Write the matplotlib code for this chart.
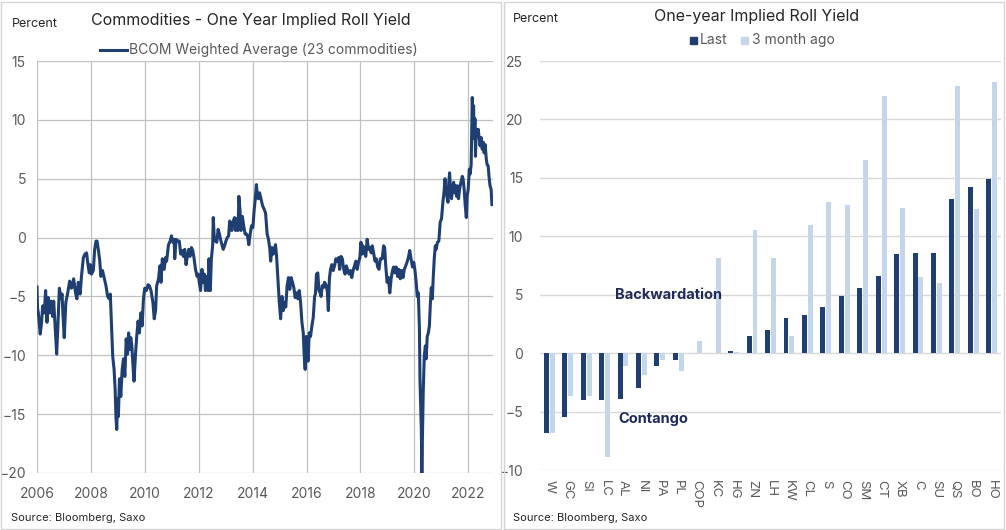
import matplotlib
matplotlib.use("Agg")
import matplotlib.pyplot as plt
from matplotlib.patches import Rectangle
from matplotlib.lines import Line2D
import numpy as np

plt.rcParams['font.family'] = ['Inter', 'DejaVu Sans']

# --- left panel: BCOM weighted average roll yield ---
years = [
    2006.00, 2006.02, 2006.05, 2006.12, 2006.17, 2006.21, 2006.27, 2006.32, 2006.37, 2006.42,
    2006.47, 2006.52, 2006.58, 2006.62, 2006.67, 2006.73, 2006.77, 2006.83, 2006.89, 2006.93,
    2006.96, 2007.01, 2007.07, 2007.14, 2007.21, 2007.28, 2007.36, 2007.43, 2007.48, 2007.53,
    2007.60, 2007.65, 2007.72, 2007.78, 2007.84, 2007.88, 2007.94, 2007.98, 2008.02, 2008.09,
    2008.14, 2008.19, 2008.23, 2008.28, 2008.33, 2008.37, 2008.43, 2008.49, 2008.56, 2008.62,
    2008.68, 2008.72, 2008.77, 2008.81, 2008.86, 2008.90, 2008.93, 2008.96, 2008.99, 2009.02,
    2009.06, 2009.11, 2009.16, 2009.21, 2009.26, 2009.31, 2009.36, 2009.40, 2009.44, 2009.48,
    2009.52, 2009.57, 2009.60, 2009.65, 2009.70, 2009.75, 2009.80, 2009.85, 2009.90, 2009.95,
    2010.00, 2010.06, 2010.12,
    2010.17, 2010.23, 2010.30, 2010.35, 2010.40, 2010.44, 2010.51, 2010.56, 2010.60, 2010.65,
    2010.72, 2010.77, 2010.81, 2010.88, 2010.94, 2010.99, 2011.04, 2011.09, 2011.11, 2011.16,
    2011.22, 2011.28, 2011.33, 2011.38, 2011.43, 2011.48, 2011.53, 2011.58, 2011.63, 2011.68,
    2011.73, 2011.78, 2011.83, 2011.88, 2011.94, 2011.99, 2012.02, 2012.07, 2012.12, 2012.17,
    2012.21, 2012.25, 2012.30, 2012.35, 2012.38, 2012.43, 2012.47, 2012.52, 2012.54, 2012.58,
    2012.62, 2012.67, 2012.72, 2012.77, 2012.81, 2012.86, 2012.91, 2012.96, 2013.01, 2013.06,
    2013.11, 2013.15, 2013.20, 2013.23, 2013.28, 2013.33, 2013.37, 2013.42, 2013.46, 2013.49,
    2013.53, 2013.57, 2013.62, 2013.67, 2013.72, 2013.77, 2013.81, 2013.86, 2013.91, 2013.96,
    2014.01, 2014.06, 2014.10, 2014.14, 2014.17, 2014.21, 2014.26, 2014.31, 2014.37, 2014.43,
    2014.48, 2014.54, 2014.59, 2014.64, 2014.67, 2014.72, 2014.77, 2014.81, 2014.85, 2014.89,
    2014.94, 2014.99, 2015.04, 2015.09, 2015.14, 2015.19, 2015.23, 2015.28, 2015.33, 2015.38,
    2015.43, 2015.48, 2015.53, 2015.58, 2015.63, 2015.68, 2015.73, 2015.78, 2015.83, 2015.88,
    2015.91, 2015.95, 2015.99, 2016.02, 2016.06, 2016.10, 2016.15, 2016.20, 2016.25, 2016.30,
    2016.33, 2016.37, 2016.42, 2016.46, 2016.51, 2016.54, 2016.58, 2016.63, 2016.67, 2016.72,
    2016.77, 2016.81, 2016.85, 2016.89, 2016.94, 2016.99, 2017.04, 2017.09, 2017.14, 2017.19,
    2017.23, 2017.28, 2017.33, 2017.38, 2017.43, 2017.48, 2017.53, 2017.58, 2017.63, 2017.68,
    2017.73, 2017.78, 2017.83, 2017.88, 2017.93, 2017.98, 2018.02, 2018.06, 2018.10, 2018.15,
    2018.20, 2018.25, 2018.30, 2018.35, 2018.40, 2018.44, 2018.49, 2018.54, 2018.59, 2018.64,
    2018.69, 2018.74,
    2018.81, 2018.86, 2018.90, 2018.94, 2018.99, 2019.04, 2019.09, 2019.14, 2019.19, 2019.23,
    2019.28, 2019.33, 2019.38, 2019.43, 2019.48, 2019.53, 2019.58, 2019.63, 2019.68, 2019.73,
    2019.78, 2019.83, 2019.88, 2019.93, 2019.98, 2020.02, 2020.07, 2020.11, 2020.15, 2020.19,
    2020.21, 2020.23, 2020.26, 2020.28, 2020.31, 2020.33, 2020.37, 2020.41, 2020.44, 2020.48,
    2020.52, 2020.56, 2020.59, 2020.63, 2020.67, 2020.70, 2020.74, 2020.78, 2020.81, 2020.86,
    2020.91, 2020.96, 2021.01, 2021.06, 2021.10, 2021.14, 2021.17, 2021.21, 2021.25, 2021.28,
    2021.31, 2021.35, 2021.38, 2021.42, 2021.46, 2021.49, 2021.53, 2021.57, 2021.60, 2021.64,
    2021.68, 2021.73, 2021.78, 2021.81, 2021.85, 2021.89, 2021.93, 2021.96, 2022.00, 2022.04,
    2022.07, 2022.11, 2022.15, 2022.17, 2022.20, 2022.22, 2022.25, 2022.27, 2022.30, 2022.33,
    2022.37, 2022.41, 2022.44, 2022.48, 2022.52, 2022.56, 2022.59, 2022.63, 2022.67, 2022.70,
    2022.74, 2022.78, 2022.81, 2022.85, 2022.88,
]
roll_yield = [
    -4.2, -6.0, -6.4, -8.2, -7.2, -5.8, -6.4, -4.5, -7.2, -5.1,
    -6.4, -5.4, -6.7, -5.4, -7.5, -9.9, -7.8, -4.3, -5.2, -4.8,
    -6.4, -8.5, -5.5, -4.7, -3.7, -4.3, -3.5, -4.7, -5.2, -3.8,
    -4.8, -3.3, -1.7, -1.4, -1.3, -2.1, -3.0, -2.3, -3.1, -2.8,
    -1.0, -0.3, -0.3, -1.1, -2.0, -3.3, -2.8, -3.4, -4.1, -5.0,
    -5.2, -4.8, -7.8, -10.1, -11.2, -12.9, -15.3, -16.3, -13.7, -15.2,
    -12.0, -13.5, -11.2, -10.3, -11.8, -8.6, -9.9, -8.1, -9.5, -8.5,
    -9.2, -11.2, -12.2, -10.1, -8.4, -7.1, -8.1, -6.4, -7.5, -5.2,
    -4.3, -4.5, -4.0,
    -4.1, -4.5, -5.5, -6.9, -6.2, -4.1, -3.5, -2.4, -3.8, -1.8,
    -2.7, -1.7, -2.0, -0.6, -0.3, 0.15, -0.4, -0.15, -1.8, -0.15,
    -0.3, -0.3, -1.4, -1.1, -1.6, -1.0, -2.3, -1.6, -1.0, -1.6,
    -0.85, -1.1, -1.8, -2.7, -3.3, -3.1, -3.8, -4.5, -2.7, -3.8,
    -3.1, -4.5, -3.3, -4.5, -1.8, -4.5, -1.8, -0.6, 1.7, -0.15,
    -0.3, -0.4, 0.7, 0.3, -0.15, -0.6, -1.0, -0.7, -0.3, 0.0,
    0.15, 1.4, 1.1, 0.6, 1.4, 1.7, 0.6, 1.6, 0.6, 3.5,
    2.4, 0.6, 1.8, 1.0, 0.3, 0.3, 0.15, -0.6, 0.3, 1.0,
    0.85, 2.4, 3.3, 4.5, 3.8, 3.3, 3.8, 3.3, 2.7, 2.4,
    2.1, 0.3, -0.15, -1.0, -2.0, -0.85, -1.4, -1.0, -0.6, -1.6,
    -3.5, -5.5, -6.9, -5.0, -6.2, -5.5, -5.9, -4.1, -3.4, -4.4,
    -3.4, -3.8, -4.25, -5.1, -4.7, -5.2, -4.5, -5.5, -7.2, -8.1,
    -9.8, -11.2, -8.4, -9.5, -10.5, -8.1, -8.4, -7.5, -6.8, -5.0,
    -4.8, -3.1, -3.0, -4.5, -4.7, -5.0, -4.1, -4.25, -3.8, -4.0,
    -4.5, -6.2, -3.5, -2.7, -2.3, -2.8, -2.4, -1.8, -2.0, -1.7,
    -2.7, -1.6, -1.8, -2.7, -3.1, -2.4, -2.8, -3.1, -2.8, -3.4,
    -2.8, -2.4, -2.0, -2.7, -2.1, -1.7, -0.4, -1.4, -0.7, -1.3,
    -1.6, -0.15, -1.0, -0.85, -1.3, -0.7, -1.3, -2.0, -1.8, -2.5,
    -2.7, -1.8,
    -1.8, -0.7, -0.85, -2.4, -3.8, -3.4, -4.7, -3.5, -2.8, -2.5,
    -3.0, -2.5, -3.3, -2.7, -3.5, -2.8, -3.4, -2.7, -2.4, -2.1,
    -1.7, -1.1, -1.8, -2.5, -2.1, -2.7, -3.8, -5.0, -4.7, -7.8,
    -12.0, -13.7, -16.3, -20.0, -16.0, -13.2, -10.1, -9.2, -10.3, -8.4,
    -8.1, -7.5, -5.9, -4.25, -5.2, -3.5, -1.8, -0.7, -1.0, -0.4,
    -0.3, 1.3, 1.6, 3.0, 3.8, 5.0, 4.1, 3.5, 3.0, 4.7,
    5.5, 3.8, 3.3, 4.1, 4.7, 3.8, 4.4, 3.5, 4.4, 3.3,
    4.1, 4.7, 5.2, 5.0, 4.1, 2.7, 1.7, 3.5, 4.1, 5.8,
    5.4, 6.2, 11.9, 10.6, 11.2, 8.4, 10.1, 6.9, 9.2, 8.6,
    9.2, 8.4, 7.8, 8.5, 7.5, 8.1, 7.2, 7.9, 6.7, 6.2,
    6.1, 5.0, 4.4, 4.1, 2.8,
]
year_ticks = [2006, 2008, 2010, 2012, 2014, 2016, 2018, 2020, 2022]

# --- right panel: one-year implied roll yield by commodity ---
tickers = ['W', 'GC', 'SI', 'LC', 'AL', 'NI', 'PA', 'PL', 'COP', 'KC', 'HG', 'ZN', 'LH',
           'KW', 'CL', 'S', 'CO', 'SM', 'CT', 'XB', 'C', 'SU', 'QS', 'BO', 'HO']
last = [-6.8, -5.45, -4.0, -4.0, -3.9, -3.0, -1.1, -0.57, 0.0, 0.0, 0.15, 1.45, 1.95,
        3.0, 3.25, 3.95, 4.85, 5.55, 6.6, 8.45, 8.55, 8.55, 13.2, 14.2, 14.9]
three_month_ago = [-6.8, -3.65, -3.65, -8.9, -1.1, -1.85, -0.6, -1.5, 1.05, 8.1, 0.1, 10.5, 8.1,
                   1.45, 11.0, 12.9, 12.7, 16.5, 22.0, 12.4, 6.5, 6.0, 22.9, 12.3, 23.2]

navy = '#1f3f73'
light_blue = '#c6d6ea'
tick_grey = '#595959'

fig = plt.figure(figsize=(10.06, 5.30), dpi=100)

# panel frames
fig.add_artist(Rectangle((0.001, 0.002), 0.497, 0.995, transform=fig.transFigure,
                         fill=False, edgecolor='#d4d4d4', lw=1))
fig.add_artist(Rectangle((0.501, 0.002), 0.497, 0.995, transform=fig.transFigure,
                         fill=False, edgecolor='#d4d4d4', lw=1))

# ---------------- left chart ----------------
ax1 = fig.add_axes([37 / 1006, 1 - 473 / 530, 456 / 1006, 412 / 530])
ax1.plot(years, roll_yield, color=navy, lw=2.2, solid_joinstyle='round')
ax1.set_xlim(2006, 2022.92)
ax1.set_ylim(-20, 15)
ax1.set_xticks(year_ticks)
ax1.set_yticks(np.arange(-20, 16, 5))
ax1.grid(True, color='#c0c0c0', lw=0.9)
ax1.set_axisbelow(True)
for s in ax1.spines.values():
    s.set_visible(False)
ax1.tick_params(length=0, labelsize=10, colors=tick_grey)
ax1.tick_params(axis='y', pad=8)
ax1.tick_params(axis='x', pad=10)

fig.text(12 / 1006, 1 - 24 / 530, 'Percent', fontsize=9, color='#262626', va='center')
fig.text(251 / 1006, 1 - 20 / 530, 'Commodities - One Year Implied Roll Yield',
         fontsize=11.5, color='#262626', ha='center', va='center')
fig.add_artist(Line2D([100 / 1006, 127 / 1006], [1 - 50 / 530, 1 - 50 / 530],
                      transform=fig.transFigure, color=navy, lw=2.2))
fig.text(129 / 1006, 1 - 50 / 530, 'BCOM Weighted Average (23 commodities)',
         fontsize=10, color=tick_grey, va='center')
fig.text(11 / 1006, 1 - 518 / 530, 'Source: Bloomberg, Saxo', fontsize=8, color='#262626',
         va='center')

# ---------------- right chart ----------------
ax2 = fig.add_axes([540 / 1006, 1 - 470 / 530, 461 / 1006, 409 / 530])
x = np.arange(len(tickers))
w = 0.27
ax2.bar(x - 0.16, last, width=w, color=navy, zorder=3)
ax2.bar(x + 0.16, three_month_ago, width=w, color=light_blue, zorder=3)
ax2.set_xlim(-0.5, len(tickers) - 0.5)
ax2.set_ylim(-10, 25)
ax2.set_yticks(np.arange(-10, 26, 5))
ax2.set_xticks(x)
ax2.set_xticklabels(tickers, rotation=270, ha='center', va='top')
ax2.yaxis.grid(True, color='#d9d9d9', lw=1)
ax2.set_axisbelow(True)
for s in ax2.spines.values():
    s.set_visible(False)
ax2.tick_params(length=0, labelsize=10, colors=tick_grey)
ax2.tick_params(axis='y', pad=12)
ax2.tick_params(axis='x', pad=7, labelsize=9.5)

ax2.text(0.163, 0.428, 'Backwardation', transform=ax2.transAxes, fontsize=10.5,
         fontweight='bold', color='#1f2a5a', va='center', zorder=4)
ax2.text(0.170, 0.125, 'Contango', transform=ax2.transAxes, fontsize=10.5,
         fontweight='bold', color='#1f2a5a', va='center', zorder=4)

fig.text(513 / 1006, 1 - 19 / 530, 'Percent', fontsize=9, color='#262626', va='center')
fig.text(757 / 1006, 1 - 16 / 530, 'One-year Implied Roll Yield', fontsize=11.5,
         color='#262626', ha='center', va='center')
fig.add_artist(Rectangle((690 / 1006, 1 - 44 / 530), 7 / 1006, 7 / 530,
                         transform=fig.transFigure, color=navy))
fig.text(700 / 1006, 1 - 40 / 530, 'Last', fontsize=10, color=tick_grey, va='center')
fig.add_artist(Rectangle((741 / 1006, 1 - 44 / 530), 7 / 1006, 7 / 530,
                         transform=fig.transFigure, color=light_blue))
fig.text(752 / 1006, 1 - 40 / 530, '3 month ago', fontsize=10, color=tick_grey, va='center')
fig.text(513 / 1006, 1 - 518 / 530, 'Source: Bloomberg, Saxo', fontsize=8, color='#262626',
         va='center')

fig.savefig('out.png', dpi=100)
